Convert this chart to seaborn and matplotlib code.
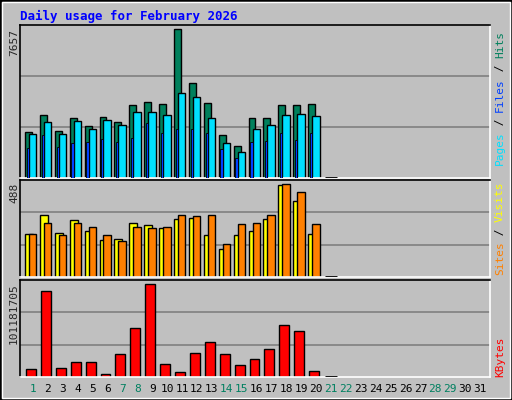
import matplotlib
matplotlib.use("Agg")
import matplotlib.pyplot as plt
import seaborn as sns
import numpy as np
from matplotlib.patches import Rectangle

sns.set_style("white")
plt.rcParams['font.family'] = ['DejaVu Sans Mono', 'DejaVu Sans']

days = list(range(1, 32))
hits = [2356, 3239, 2408, 3083, 2667, 3135, 2875, 3758, 3914, 3810, 7657, 4902, 3862, 2200, 1628, 3083, 3083, 3758, 3758, 3810, 0]
pages = [2252, 2875, 2252, 2927, 2511, 2979, 2719, 3395, 3395, 3239, 4382, 4174, 3083, 1784, 1316, 2511, 2719, 3239, 3291, 3187, 0]
files = [1524, 2200, 1576, 1784, 1836, 1992, 1836, 2044, 2823, 2304, 2511, 2511, 2304, 1472, 1005, 1836, 1888, 2304, 1940, 2304, 0]
visits = [228, 324, 233, 297, 244, 196, 202, 281, 271, 255, 302, 308, 223, 149, 223, 239, 302, 483, 398, 228, 0]
sites = [228, 281, 223, 281, 260, 223, 191, 260, 255, 265, 324, 318, 324, 175, 276, 281, 324, 488, 446, 276, 0]
kbytes = [9231900, 93426828, 10339728, 15878868, 15878868, 3692760, 24741492, 53545020, 101181705, 13663212,
          5908416, 25849320, 38035428, 24741492, 12555384, 19202352, 30280632, 56868504, 50221536, 7016244, 0]
weekend_days = [1, 7, 8, 14, 15, 21, 22, 28, 29]

BG = '#C0C0C0'
C_HITS, C_FILES, C_PAGES = '#00805C', '#0040FF', '#00E0FF'
C_VIS, C_SITES, C_KB = '#FFFF00', '#FF8000', '#FF0000'

W, H = 512, 400
fig = plt.figure(figsize=(W / 100, H / 100), dpi=100)
fig.patch.set_facecolor(BG)

def px_rect(x0, y0, x1, y1):
    return [x0 / W, 1 - y1 / H, (x1 - x0) / W, (y1 - y0) / H]

fig.patches.append(Rectangle((0, 0), 1, 1, transform=fig.transFigure, fill=False, ec='black', lw=2))
fig.patches.append(Rectangle((2 / W, 2 / H), 1 - 4 / W, 1 - 4 / H, transform=fig.transFigure, fill=False, ec='white', lw=1))

ax1 = fig.add_axes(px_rect(20, 25, 490, 178))
ax2 = fig.add_axes(px_rect(20, 180, 490, 277))
ax3 = fig.add_axes(px_rect(20, 280, 490, 377))

d = np.arange(1, len(hits) + 1)
u = 1.0 / 15.0

def style(ax, ymax):
    ax.set_facecolor(BG)
    ax.set_xlim(0.13, 31.67)
    ax.set_ylim(0, ymax)
    for fr in (1 / 3, 2 / 3):
        ax.axhline(ymax * fr, color='#808080', lw=1.2, zorder=0)
    ax.spines['left'].set_color('black')
    ax.spines['top'].set_color('black')
    ax.spines['right'].set_color('white')
    ax.spines['bottom'].set_color('white')
    for s in ax.spines.values():
        s.set_linewidth(1.2)
    ax.set_yticks([])
    ax.set_xticks([])

def zero_marks(ax, vals):
    z = [i for i, v in zip(d, vals) if v == 0]
    ax.hlines([0] * len(z), [i - 6 * u for i in z], [i + 6 * u for i in z], color='black', lw=2, zorder=5)

ymax1 = 7657 * 454 / 442
style(ax1, ymax1)
ax1.bar(d - 8 * u, hits, width=7 * u, align='edge', color=C_HITS, ec='black', lw=1)
ax1.bar(d - 4 * u, pages, width=7.5 * u, align='edge', color=C_PAGES, ec='black', lw=1)
ax1.bar(d - 6.3 * u, files, width=2.3 * u, align='edge', color=C_FILES, ec='black', lw=0.6, zorder=4)
zero_marks(ax1, hits)

ymax2 = 488 * 288 / 276
style(ax2, ymax2)
ax2.bar(d - 8 * u, visits, width=8 * u, align='edge', color=C_VIS, ec='black', lw=1)
ax2.bar(d - 4 * u, sites, width=7.5 * u, align='edge', color=C_SITES, ec='black', lw=1)
zero_marks(ax2, visits)

ymax3 = 101181705 * 286 / 274
style(ax3, ymax3)
ax3.bar(d - 7 * u, kbytes, width=10 * u, align='edge', color=C_KB, ec='black', lw=1)
zero_marks(ax3, kbytes)

for day in days:
    fig.text((20 + (day - 0.13) * 470 / 31.54) / W, 1 - 389 / H, str(day),
             ha='center', va='center', fontsize=8,
             color='#008060' if day in weekend_days else 'black')

fig.text(20 / W, 1 - 16 / H, 'Daily usage for February 2026', color='#0000FF',
         fontsize=9, fontweight='bold', ha='left', va='center')

for txt, ytop in (('7657', 29), ('488', 183), ('101181705', 283)):
    fig.text(14 / W, 1 - ytop / H, txt, rotation=90, ha='center', va='top', fontsize=8)

cw = 0.6 * 8 * 100 / 72
def legend(parts, ybottom):
    y = ybottom
    for txt, col in parts:
        fig.text(500 / W, 1 - y / H, txt, rotation=90, ha='center', va='bottom',
                 fontsize=8, color=col)
        y -= cw * len(txt)

legend([('Pages', C_PAGES), (' / ', 'black'), ('Files', C_FILES), (' / ', 'black'), ('Hits', C_HITS)], 165)
legend([('Sites', C_SITES), (' / ', 'black'), ('Visits', C_VIS)], 275)
legend([('KBytes', C_KB)], 377)

fig.savefig('out.png', dpi=100, facecolor=BG)
